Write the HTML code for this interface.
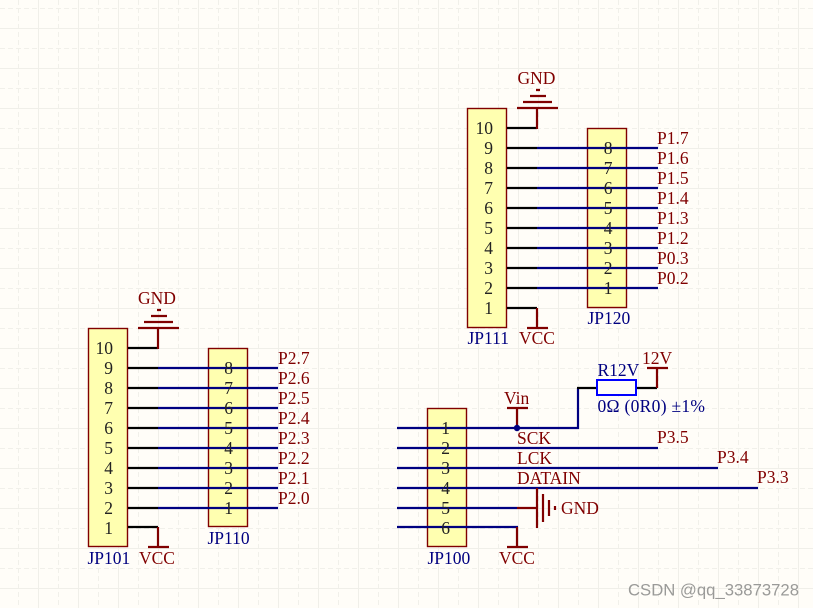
<!DOCTYPE html>
<html><head><meta charset="utf-8"><style>
html,body{margin:0;padding:0;background:#fffdf8}
svg{display:block}
text{font-family:"Liberation Serif",serif;font-size:17.5px}
.r text,text.r{fill:#800000}
text.b{fill:#000080}
.bx{fill:#ffffb0;stroke:#800000;stroke-width:1.4}
.n{stroke:#000080;stroke-width:2.2;fill:none}
.d{stroke:#800000;stroke-width:2.2;fill:none}
.k2{stroke:#000;stroke-width:2.2;fill:none}
.soft{filter:blur(0.35px)}
</style></head><body>
<svg width="813" height="608" viewBox="0 0 813 608" xmlns="http://www.w3.org/2000/svg">
<defs><pattern id="g" x="0" y="0" width="40" height="40" patternUnits="userSpaceOnUse">
<path d="M18.5 0V40M0 8.5H40" stroke="#f1f0ea" stroke-width="1" stroke-dasharray="5 3" fill="none"/>
<path d="M38.5 0V40M0 28.5H40" stroke="#f0efe9" stroke-width="1" fill="none"/>
</pattern></defs>
<rect width="813" height="608" fill="#fffdf8"/>
<rect width="813" height="608" fill="url(#g)"/>

<g class="soft">
<g id="left">
<rect class="bx" x="88.5" y="328.5" width="39" height="218"/>
<rect class="bx" x="208.5" y="348.5" width="39" height="178"/>
<path class="k2" d="M128 348H158M128 368H158M128 388H158M128 408H158M128 428H158M128 448H158M128 468H158M128 488H158M128 508H158M128 527H158"/>
<path class="n" d="M158 368H278M158 388H278M158 408H278M158 428H278M158 448H278M158 468H278M158 488H278M158 508H278"/>
<path class="d" d="M158 349V328M138 328H179M144 322H173M151 316H167M157 310H161M158 527V547M148 547H169"/>
<g text-anchor="end">
<text x="113" y="354" fill="#222">10</text><text x="113" y="374" fill="#222">9</text><text x="113" y="394" fill="#222">8</text><text x="113" y="414" fill="#222">7</text><text x="113" y="434" fill="#222">6</text><text x="113" y="454" fill="#222">5</text><text x="113" y="474" fill="#222">4</text><text x="113" y="494" fill="#222">3</text><text x="113" y="514" fill="#222">2</text><text x="113" y="534" fill="#222">1</text>
<text x="233" y="374" fill="#222">8</text><text x="233" y="394" fill="#222">7</text><text x="233" y="414" fill="#222">6</text><text x="233" y="434" fill="#222">5</text><text x="233" y="454" fill="#222">4</text><text x="233" y="474" fill="#222">3</text><text x="233" y="494" fill="#222">2</text><text x="233" y="514" fill="#222">1</text>
</g>
<g class="r">
<text x="278" y="364">P2.7</text><text x="278" y="384">P2.6</text><text x="278" y="404">P2.5</text><text x="278" y="424">P2.4</text><text x="278" y="444">P2.3</text><text x="278" y="464">P2.2</text><text x="278" y="484">P2.1</text><text x="278" y="504">P2.0</text>
<text x="138" y="304">GND</text><text x="139" y="564">VCC</text>
</g>
<text class="b" x="87.5" y="564">JP101</text><text class="b" x="207.5" y="544">JP110</text>
</g>

<g id="top">
<rect class="bx" x="467.5" y="108.5" width="39" height="219"/>
<rect class="bx" x="587.5" y="128.5" width="39" height="179"/>
<path class="k2" d="M507 128H537M507 148H537M507 168H537M507 188H537M507 208H537M507 228H537M507 248H537M507 268H537M507 288H537M507 308H537"/>
<path class="n" d="M537 148H658M537 168H658M537 188H658M537 208H658M537 228H658M537 248H658M537 268H658M537 288H658"/>
<path class="d" d="M537 129V108M517 108H558M523 102H552M530 96H546M536 90H540M537 308V328M527 328H548"/>
<g text-anchor="end">
<text x="493" y="134" fill="#222">10</text><text x="493" y="154" fill="#222">9</text><text x="493" y="174" fill="#222">8</text><text x="493" y="194" fill="#222">7</text><text x="493" y="214" fill="#222">6</text><text x="493" y="234" fill="#222">5</text><text x="493" y="254" fill="#222">4</text><text x="493" y="274" fill="#222">3</text><text x="493" y="294" fill="#222">2</text><text x="493" y="314" fill="#222">1</text>
<text x="612.5" y="154" fill="#222">8</text><text x="612.5" y="174" fill="#222">7</text><text x="612.5" y="194" fill="#222">6</text><text x="612.5" y="214" fill="#222">5</text><text x="612.5" y="234" fill="#222">4</text><text x="612.5" y="254" fill="#222">3</text><text x="612.5" y="274" fill="#222">2</text><text x="612.5" y="294" fill="#222">1</text>
</g>
<g class="r">
<text x="657" y="144">P1.7</text><text x="657" y="164">P1.6</text><text x="657" y="184">P1.5</text><text x="657" y="204">P1.4</text><text x="657" y="224">P1.3</text><text x="657" y="244">P1.2</text><text x="657" y="264">P0.3</text><text x="657" y="284">P0.2</text>
<text x="517.5" y="84">GND</text><text x="519" y="344">VCC</text>
</g>
<text class="b" x="467.5" y="344">JP111</text><text class="b" x="587.5" y="324">JP120</text>
</g>

<g id="bottom">
<rect class="bx" x="427.5" y="408.5" width="39" height="138"/>
<path class="n" d="M397 428H578V388M397 448H658M397 468H718M397 488H758M397 508H517M397 527H518"/>
<path class="k2" d="M577 388H597M636 388H657"/>
<rect x="597" y="380" width="39" height="15" fill="#fffdf8" stroke="#0000ff" stroke-width="2"/>
<path class="d" d="M517 508H537M537 488V528M543 494V522M549 500V516M555 506V510M517 527V547M507 547H528M517 408V428M507 408H528M657 388V368M647 368H668"/>
<circle cx="517" cy="428" r="3.2" fill="#000080"/>
<g text-anchor="end">
<text x="450" y="434" fill="#222">1</text><text x="450" y="454" fill="#222">2</text><text x="450" y="474" fill="#222">3</text><text x="450" y="494" fill="#222">4</text><text x="450" y="514" fill="#222">5</text><text x="450" y="534" fill="#222">6</text>
</g>
<g class="r">
<text x="504" y="404">Vin</text><text x="642" y="364">12V</text>
<text x="517" y="444">SCK</text><text x="517" y="464">LCK</text><text x="517" y="484">DATAIN</text>
<text x="657" y="443">P3.5</text><text x="717" y="463">P3.4</text><text x="757" y="483">P3.3</text>
<text x="561" y="514">GND</text><text x="499" y="564">VCC</text>
</g>
<text class="b" x="597.5" y="376">R12V</text>
<text class="b" x="597.5" y="412" textLength="107.5">0Ω (0R0) ±1%</text>
<text class="b" x="427.5" y="564">JP100</text>
</g>
<text x="628" y="595.5" textLength="171" lengthAdjust="spacingAndGlyphs" style="font-family:'Liberation Sans',sans-serif;font-size:16.5px" fill="#9a9a98">CSDN @qq_33873728</text>
</g>
</svg>
</body></html>
